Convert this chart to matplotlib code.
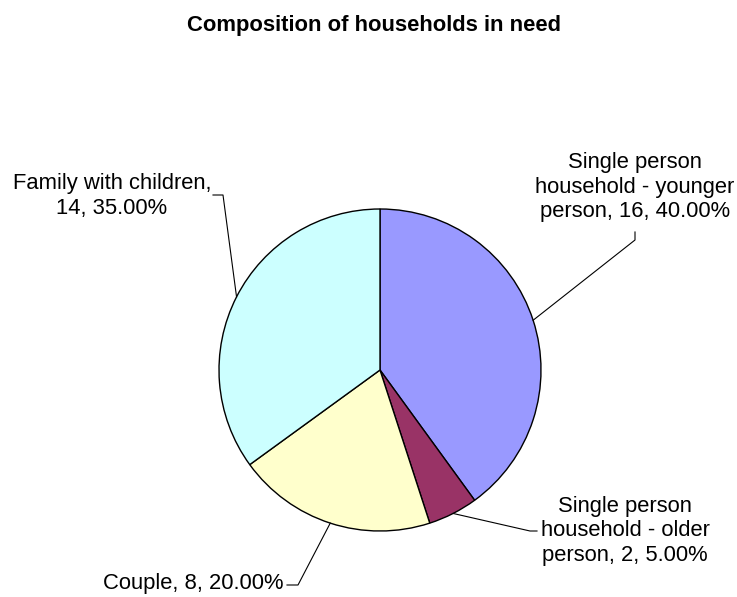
import numpy as np
import matplotlib
matplotlib.use('Agg')
import matplotlib.pyplot as plt

plt.rcParams['font.family'] = ['Liberation Sans', 'DejaVu Sans']

# data
categories = ["Single person\nhousehold - younger\nperson",
              "Single person\nhousehold - older\nperson",
              "Couple",
              "Family with children"]
counts = [16, 2, 8, 14]
colors = ['#9999FF', '#993366', '#FFFFCC', '#CCFFFF']

W, H = 737, 597
CX, CY, R = 380, H - 370, 161

fig = plt.figure(figsize=(W / 100, H / 100), dpi=100)
ax = fig.add_axes([0, 0, 1, 1])

ax.pie(counts, colors=colors, startangle=90, counterclock=False,
       center=(CX, CY), radius=R, frame=True,
       wedgeprops=dict(edgecolor='black', linewidth=1.0))
ax.set_xlim(0, W); ax.set_ylim(0, H)
ax.set_aspect('equal'); ax.axis('off')

total = sum(counts)
labels = [f"{c}, {n}, {n / total * 100:.2f}%" for c, n in zip(categories, counts)]
labels[3] = f"Family with children,\n{counts[3]}, {counts[3] / total * 100:.2f}%"

# leader layout: anchor angle on rim, elbow point, end point, text pos, alignment
layout = [
    (18,   (635, 240), (635, 232), (635, 187), 'center'),
    (-63,  (530, 531), (537, 531), (625, 531), 'center'),
    (-108, (298, 585), (287, 585), (284, 583), 'right'),
    (153,  (223, 195), (213, 195), (112, 196), 'center'),
]

for lab, (ang, elbow, end, tpos, ha) in zip(labels, layout):
    a = np.deg2rad(ang)
    x0, y0 = CX + R * np.cos(a), CY + R * np.sin(a)
    ax.plot([x0, elbow[0], end[0]], [y0, H - elbow[1], H - end[1]],
            color='black', lw=0.8)
    ax.text(tpos[0], H - tpos[1], lab, ha=ha, va='center', fontsize=15.8,
            multialignment='center', linespacing=1.2)

ax.text(374, H - 25, "Composition of households in need", ha='center', va='center',
        fontsize=15.8, fontweight='bold')

fig.savefig('out.png', dpi=100)
